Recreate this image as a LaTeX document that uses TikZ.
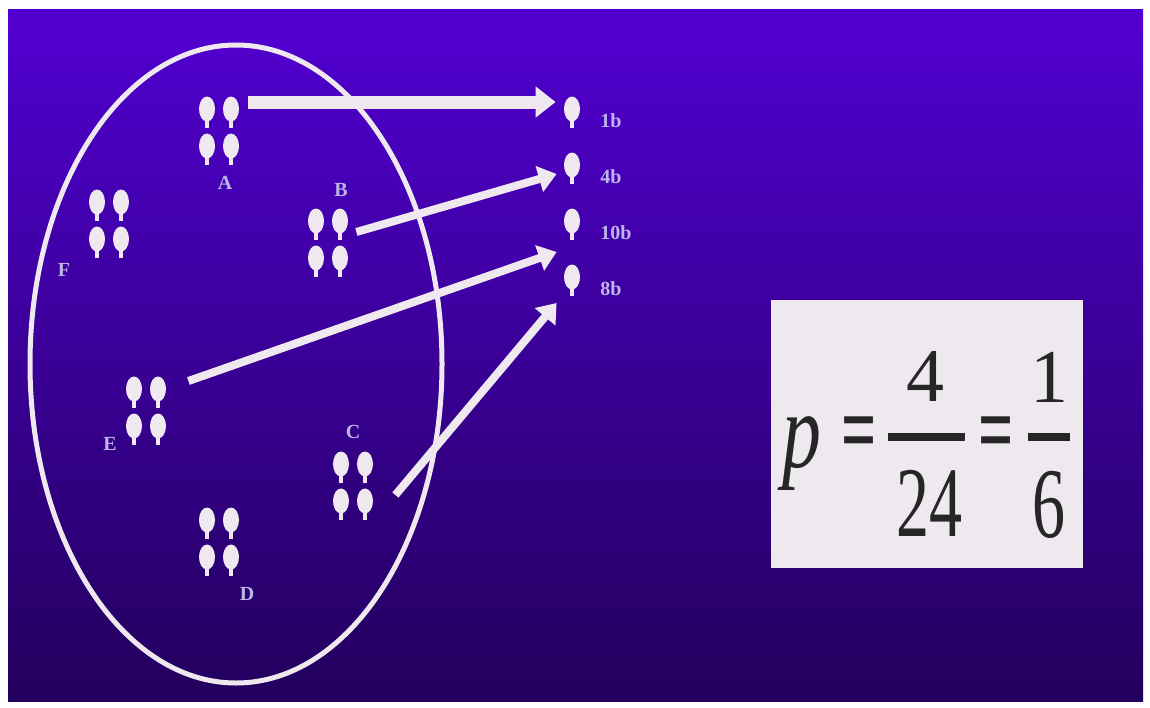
\documentclass[tikz,border=0pt]{standalone}
\usepackage{fontspec}
\setmainfont{Liberation Serif}
\usepackage{graphicx}
\usepackage{tikz}
\usetikzlibrary{arrows.meta,shapes,positioning}

\definecolor{bgtop}{HTML}{5200D2}
\definecolor{bgbot}{HTML}{22005C}
\definecolor{chalk}{HTML}{EFE9EF}
\definecolor{tagcol}{HTML}{BDB4EA}
\definecolor{cardcol}{HTML}{EEE9EE}

\begin{document}
\begin{tikzpicture}[x=0.5pt, y=-0.5pt, node distance=12pt,
    seat/.style={ellipse, fill=chalk, minimum width=8pt, minimum height=12.5pt, inner sep=0pt,
        label={[stem]below:{}}},
    stem/.style={rectangle, fill=chalk, minimum width=2pt, minimum height=4pt, inner sep=0pt,
        label distance=-1pt},
    tag/.style={text=tagcol, font=\bfseries\fontsize{10}{10}\selectfont, inner sep=0pt},
    link/.style={draw=chalk, line width=4pt, -{Triangle[width=13pt,length=9pt]}},
    digit/.style={inner sep=0pt, text=black!85, font=\fontsize{38}{38}\selectfont},
    equal/.style={inner sep=0pt, text=black!85, font=\bfseries\fontsize{50}{50}\selectfont}]

    \useasboundingbox (0,0) rectangle (1150,707);
    \fill[white] (0,0) rectangle (1150,707);
    \shade[top color=bgtop, bottom color=bgbot] (8,9) rectangle (1143,701);

    \draw[chalk, line width=2.5pt] (236,364) ellipse [x radius=206, y radius=319];

    \node[seat] (A1) at (207,109) {};
    \node[seat, right of=A1] (A2) {};
    \node[seat, below of=A1, node distance=18.5pt] (A3) {};
    \node[seat, right of=A3] (A4) {};

    \node[seat] (F1) at (97,202) {};
    \node[seat, right of=F1] (F2) {};
    \node[seat, below of=F1, node distance=18.5pt] (F3) {};
    \node[seat, right of=F3] (F4) {};

    \node[seat] (B1) at (316,221) {};
    \node[seat, right of=B1] (B2) {};
    \node[seat, below of=B1, node distance=18.5pt] (B3) {};
    \node[seat, right of=B3] (B4) {};

    \node[seat] (E1) at (134,389) {};
    \node[seat, right of=E1] (E2) {};
    \node[seat, below of=E1, node distance=18.5pt] (E3) {};
    \node[seat, right of=E3] (E4) {};

    \node[seat] (C1) at (341,464) {};
    \node[seat, right of=C1] (C2) {};
    \node[seat, below of=C1, node distance=18.5pt] (C3) {};
    \node[seat, right of=C3] (C4) {};

    \node[seat] (D1) at (207,520) {};
    \node[seat, right of=D1] (D2) {};
    \node[seat, below of=D1, node distance=18.5pt] (D3) {};
    \node[seat, right of=D3] (D4) {};

    \node[tag] (labA) at (225,183) {A};
    \node[tag] (labF) at (64,270) {F};
    \node[tag] (labB) at (341,190) {B};
    \node[tag] (labE) at (110,444) {E};
    \node[tag] (labC) at (353,432) {C};
    \node[tag] (labD) at (247,594) {D};

    \node[seat] (s1) at (572,109) {};
    \node[seat, below of=s1, node distance=28pt] (s2) {};
    \node[seat, below of=s2, node distance=28pt] (s3) {};
    \node[seat, below of=s3, node distance=28pt] (s4) {};

    \node[tag, anchor=west] (n1) at (600,121) {1b};
    \node[tag, anchor=west] (n2) at (600,177) {4b};
    \node[tag, anchor=west] (n3) at (600,233) {10b};
    \node[tag, anchor=west] (n4) at (600,289) {8b};

    \path[link, line width=6.5pt, -{Triangle[width=15pt,length=10pt]}]
        ([shift={(9,-7)}]A2.east) -- ([shift={(-8,-7)}]s1.west);
    \path[link] ([shift={(8,11)}]B2.east) -- ([shift={(-7,9)}]s2.west);
    \path[link] ([shift={(22,-8)}]E2.east) -- ([shift={(-7,31)}]s3.west);
    \path[link] ([shift={(22,-6)}]C4.east) -- ([shift={(-7,26)}]s4.west);

    \node[fill=cardcol, minimum width=156pt, minimum height=134pt, inner sep=0pt] (card) at (927,434) {};
    \node[inner sep=0pt, text=black!85, font=\itshape\fontsize{54}{54}\selectfont] (pvar) at (802,454) {\scalebox{0.72}[1]{p}};
    \node[equal] (eq1) at (859,440) {\scalebox{0.62}[1]{=}};
    \node[digit] (top1) at (925,376) {4};
    \node[digit, font=\fontsize{50}{50}\selectfont] (bot1) at (929,503) {\scalebox{0.66}[1]{24}};
    \node[equal] (eq2) at (996,440) {\scalebox{0.62}[1]{=}};
    \node[digit] (top2) at (1049,377) {1};
    \node[digit, font=\fontsize{50}{50}\selectfont] (bot2) at (1049,505) {\scalebox{0.66}[1]{6}};
    \draw[line width=4pt, black!85] (888,437) -- (965,437);
    \draw[line width=4pt, black!85] (1028,437) -- (1070,437);
\end{tikzpicture}
\end{document}
